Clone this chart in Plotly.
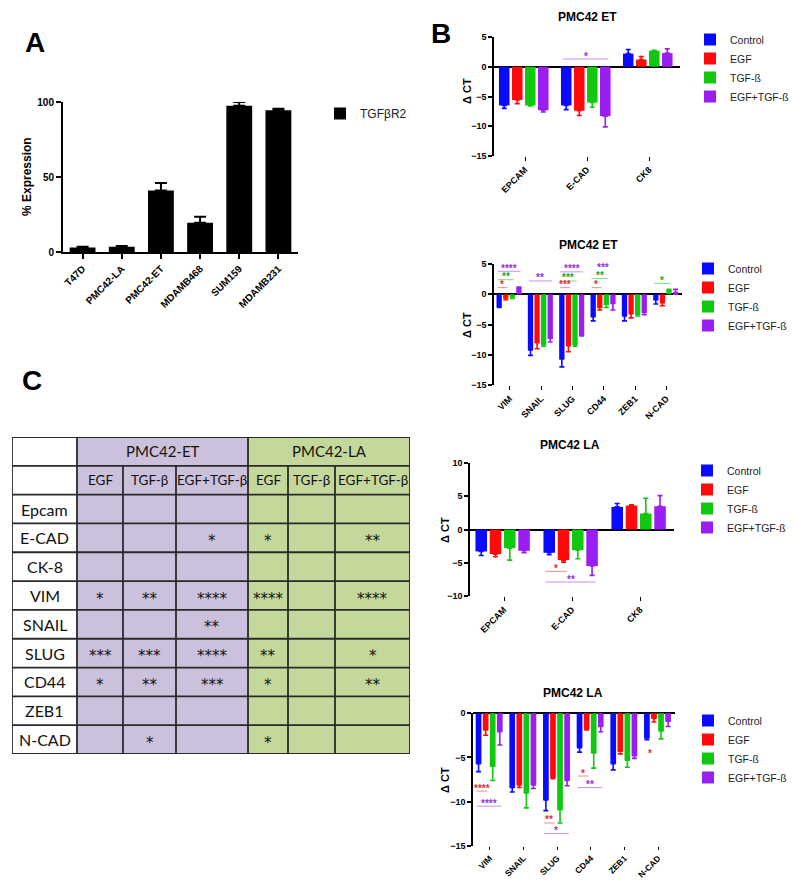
import plotly.graph_objects as go

# The page body has an 8px default margin, so the figure is drawn at (8, 8).
PAGE_OFF = 8
W, H = 797 - 2 * PAGE_OFF, 888 - 2 * PAGE_OFF
ARIAL = "Liberation Sans, Arial, sans-serif"
TABLE_FONT = "Lato, Carlito, sans-serif"

# ---------------- DATA ----------------
# Panel A
a_cells = ["T47D", "PMC42-LA", "PMC42-ET", "MDAMB468", "SUM159", "MDAMB231"]
a_values = [3.0, 3.5, 41.0, 19.5, 97.5, 94.5]
a_errors = [0.5, 0.5, 5.0, 4.0, 2.5, 1.0]

series_names = ["Control", "EGF", "TGF-ß", "EGF+TGF-ß"]

# Panel B1: PMC42 ET epithelial markers
b1_cats = ["EPCAM", "E-CAD", "CK8"]
b1_control = [-6.5, -6.5, 2.2]
b1_egf = [-5.6, -7.4, 1.2]
b1_tgf = [-6.5, -6.0, 2.7]
b1_egftgf = [-7.3, -8.3, 2.3]
b1_control_err = [0.5, 0.7, 0.7]
b1_egf_err = [0.6, 0.8, 0.5]
b1_tgf_err = [0.1, 0.8, 0.05]
b1_egftgf_err = [0.3, 1.8, 0.7]
b1_sig = [("E-CAD", 3, 1.3, "*")]

# Panel B2: PMC42 ET mesenchymal markers
b2_cats = ["VIM", "SNAIL", "SLUG", "CD44", "ZEB1", "N-CAD"]
b2_control = [-2.0, -9.2, -10.7, -3.7, -3.6, -0.9]
b2_egf = [-0.6, -8.0, -8.5, -2.2, -3.2, -1.4]
b2_tgf = [-0.4, -8.3, -8.3, -1.7, -3.3, 0.7]
b2_egftgf = [1.1, -7.3, -6.8, -1.5, -3.0, 0.3]
b2_control_err = [0.2, 0.9, 1.3, 0.7, 0.8, 0.7]
b2_egf_err = [0.3, 1.0, 1.0, 0.4, 0.7, 0.5]
b2_tgf_err = [0.3, 0.3, 0.3, 0.5, 0.3, 0.1]
b2_egftgf_err = [0.1, 0.6, 0.1, 1.1, 0.4, 0.5]
b2_sig = [("VIM", 1, 1.1, "*"), ("VIM", 2, 2.4, "**"), ("VIM", 3, 3.8, "****"),
          ("SNAIL", 3, 2.2, "**"),
          ("SLUG", 1, 1.1, "***"), ("SLUG", 2, 2.2, "***"), ("SLUG", 3, 3.7, "****"),
          ("CD44", 1, 1.1, "*"), ("CD44", 2, 2.6, "**"), ("CD44", 3, 3.9, "***"),
          ("N-CAD", 2, 1.8, "*")]

# Panel B3: PMC42 LA epithelial markers
b3_cats = ["EPCAM", "E-CAD", "CK8"]
b3_control = [-3.3, -3.5, 3.4]
b3_egf = [-3.7, -4.6, 3.6]
b3_tgf = [-2.8, -3.1, 2.4]
b3_egftgf = [-3.2, -5.5, 3.5]
b3_control_err = [0.6, 0.3, 0.5]
b3_egf_err = [0.4, 0.3, 0.1]
b3_tgf_err = [1.8, 1.3, 2.3]
b3_egftgf_err = [0.3, 1.4, 1.6]
b3_sig = [("E-CAD", 1, -6.3, "*"), ("E-CAD", 3, -7.9, "**")]

# Panel B4: PMC42 LA mesenchymal markers
b4_cats = ["VIM", "SNAIL", "SLUG", "CD44", "ZEB1", "N-CAD"]
b4_control = [-5.7, -8.4, -9.8, -3.9, -5.7, -2.8]
b4_egf = [-1.9, -8.1, -7.3, -1.8, -4.3, -0.6]
b4_tgf = [-6.0, -9.0, -10.9, -4.5, -5.3, -2.0]
b4_egftgf = [-2.1, -8.1, -7.6, -1.5, -4.8, -0.9]
b4_control_err = [0.9, 0.5, 1.2, 0.5, 0.7, 0.2]
b4_egf_err = [0.6, 0.3, 0.1, 0.1, 0.3, 0.4]
b4_tgf_err = [1.6, 1.7, 1.5, 1.7, 0.8, 0.9]
b4_egftgf_err = [1.5, 0.4, 0.6, 0.6, 0.3, 0.6]
b4_sig = [("VIM", 1, -8.8, "****"), ("VIM", 3, -10.5, "****"),
          ("SLUG", 1, -12.4, "**"), ("SLUG", 3, -13.6, "*"),
          ("CD44", 1, -7.1, "*"), ("CD44", 3, -8.4, "**"),
          ("N-CAD", 1, -4.9, "*")]

# Panel C: significance table
c_groups = ["PMC42-ET", "PMC42-LA"]
c_treatments = ["EGF", "TGF-β", "EGF+TGF-β", "EGF", "TGF-β", "EGF+TGF-β"]
c_markers = ["Epcam", "E-CAD", "CK-8", "VIM", "SNAIL", "SLUG", "CD44", "ZEB1", "N-CAD"]
c_stars = [
    ["", "", "", "", "", ""],
    ["", "", "*", "*", "", "**"],
    ["", "", "", "", "", ""],
    ["*", "**", "****", "****", "", "****"],
    ["", "", "**", "", "", ""],
    ["***", "***", "****", "**", "", "*"],
    ["*", "**", "***", "*", "", "**"],
    ["", "", "", "", "", ""],
    ["", "*", "", "*", "", ""],
]

# ---------------- STYLE ----------------
COLORS = ["#0a0aff", "#ff0a0a", "#0fc80f", "#9a1ef0"]
SIG_TEXT = {1: "#e0302f", 2: "#1aa81a", 3: "#9a2ee0"}
SIG_LINE = {1: "#f09090", 2: "#80d880", 3: "#c890f0"}
OFFS = [-0.42, -0.21, 0.0, 0.21]
BW = 0.17


def fx(px):
    return (px - PAGE_OFF) / W


def fy(py):
    return 1 - (py - PAGE_OFF) / H


fig = go.Figure()

# ---------------- Panel A ----------------
fig.add_trace(go.Bar(
    x=a_cells, y=a_values, name="TGFβR2", marker=dict(color="black", line=dict(width=0)),
    width=0.66, offset=-0.33, showlegend=True,
    error_y=dict(type="data", array=a_errors, arrayminus=[0] * len(a_errors), symmetric=False,
                 color="black", thickness=2, width=6),
    xaxis="x", yaxis="y", legend="legend", cliponaxis=False,
))

# ---------------- Panels B ----------------
panels = [
    (b1_cats, [b1_control, b1_egf, b1_tgf, b1_egftgf],
     [b1_control_err, b1_egf_err, b1_tgf_err, b1_egftgf_err], b1_sig, "2", "legend2"),
    (b2_cats, [b2_control, b2_egf, b2_tgf, b2_egftgf],
     [b2_control_err, b2_egf_err, b2_tgf_err, b2_egftgf_err], b2_sig, "3", "legend3"),
    (b3_cats, [b3_control, b3_egf, b3_tgf, b3_egftgf],
     [b3_control_err, b3_egf_err, b3_tgf_err, b3_egftgf_err], b3_sig, "4", "legend4"),
    (b4_cats, [b4_control, b4_egf, b4_tgf, b4_egftgf],
     [b4_control_err, b4_egf_err, b4_tgf_err, b4_egftgf_err], b4_sig, "5", "legend5"),
]

shapes = []
annotations = []

for cats, vals, errs, sigs, ax, leg in panels:
    for i, (name, v, e) in enumerate(zip(series_names, vals, errs)):
        plus = [ee if vv >= 0 else 0 for vv, ee in zip(v, e)]
        minus = [ee if vv < 0 else 0 for vv, ee in zip(v, e)]
        fig.add_trace(go.Bar(
            x=cats, y=v, name=name, legend=leg, showlegend=True,
            marker=dict(color=COLORS[i], line=dict(width=0)),
            width=BW, offset=OFFS[i],
            error_y=dict(type="data", array=plus, arrayminus=minus, symmetric=False,
                         color=COLORS[i], thickness=1.6, width=2.5),
            xaxis="x" + ax, yaxis="y" + ax, cliponaxis=False,
        ))
    for cat, si, ylev, stars in sigs:
        c = cats.index(cat)
        x0 = c + OFFS[0] + BW * 0.2
        x1 = c + OFFS[si] + BW * 0.8
        if not (ax == "5" and cat == "N-CAD") and not (ax == "3" and cat == "CD44" and si == 3):
            shapes.append(dict(type="line", xref="x" + ax, yref="y" + ax, x0=x0, x1=x1,
                               y0=ylev, y1=ylev, line=dict(color=SIG_LINE[si], width=1)))
        annotations.append(dict(x=(x0 + x1) / 2, y=ylev, xref="x" + ax, yref="y" + ax,
                                text=stars, showarrow=False, yanchor="middle", yshift=3,
                                font=dict(family=ARIAL, size=10, color=SIG_TEXT[si], weight="bold")))

# ---------------- Axes ----------------
def yaxis_common(rng, tickvals, dom):
    return dict(domain=dom, range=rng, tickvals=tickvals, showline=True, linecolor="black",
                linewidth=1.5, ticks="outside", ticklen=4, tickwidth=1.5, tickcolor="black",
                showgrid=False, zeroline=True, zerolinecolor="black", zerolinewidth=1.5,
                automargin=False,
                tickfont=dict(family=ARIAL, size=9, color="black", weight="bold"))


def xaxis_common(dom, anchor, cats, fs=9):
    return dict(domain=dom, anchor=anchor, range=[-0.5, len(cats) - 0.5], showline=False,
                ticks="outside", ticklen=4, tickwidth=1.2, tickcolor="black", showgrid=False,
                zeroline=False, tickangle=-45, automargin=False,
                tickfont=dict(family=ARIAL, size=fs, color="black", weight="bold"))


layout = dict(
    width=W, height=H, autosize=False, showlegend=True,
    margin=dict(l=0, r=0, t=0, b=0, autoexpand=False),
    paper_bgcolor="white", plot_bgcolor="rgba(0,0,0,0)", barmode="overlay",
    xaxis=dict(domain=[fx(63), fx(298)], anchor="y", range=[-0.5, 5.5], showline=True,
               linecolor="black", linewidth=2, ticks="outside", ticklen=5, tickwidth=2,
               tickcolor="black", showgrid=False, zeroline=False, tickangle=-45, automargin=False,
               tickfont=dict(family=ARIAL, size=10, color="black", weight="bold")),
    yaxis=dict(domain=[fy(252), fy(102)], anchor="x", range=[0, 100], tickvals=[0, 50, 100],
               showline=True, linecolor="black", linewidth=2, ticks="outside", ticklen=5,
               tickwidth=2, tickcolor="black", showgrid=False, zeroline=False, automargin=False,
               tickfont=dict(family=ARIAL, size=10, color="black", weight="bold")),
    xaxis2=xaxis_common([fx(494), fx(680)], "y2", b1_cats),
    yaxis2=dict(yaxis_common([-15, 5], [5, 0, -5, -10, -15], [fy(156), fy(37)]), anchor="x2"),
    xaxis3=xaxis_common([fx(494), fx(682)], "y3", b2_cats),
    yaxis3=dict(yaxis_common([-15, 5], [5, 0, -5, -10, -15], [fy(385), fy(264)]), anchor="x3"),
    xaxis4=xaxis_common([fx(470), fx(674)], "y4", b3_cats),
    yaxis4=dict(yaxis_common([-10, 10], [10, 5, 0, -5, -10], [fy(596), fy(463)]), anchor="x4"),
    xaxis5=xaxis_common([fx(473), fx(675)], "y5", b4_cats, fs=8.5),
    yaxis5=dict(yaxis_common([-15, 0.02], [0, -5, -10, -15], [fy(846), fy(713)]), anchor="x5"),
    xaxis6=dict(domain=[fx(12), fx(410)], anchor="y6", range=[0, 398], visible=False, fixedrange=True),
    yaxis6=dict(domain=[fy(754), fy(437)], anchor="x6", range=[317, 0], visible=False, fixedrange=True),
)
layout["xaxis5"]["ticklen"] = 3

# Legends
leg_font = dict(family=ARIAL, size=10.5, color="#222")
layout["legend"] = dict(x=fx(320), y=fy(99), xanchor="left", yanchor="top",
                        font=dict(family=ARIAL, size=12, color="#222"),
                        bgcolor="rgba(0,0,0,0)", itemwidth=30, tracegroupgap=0)
for key, lx, ly in [("legend2", 690, 25), ("legend3", 688, 254), ("legend4", 687, 456),
                    ("legend5", 688, 706)]:
    layout[key] = dict(x=fx(lx), y=fy(ly), xanchor="left", yanchor="top", font=leg_font,
                       bgcolor="rgba(0,0,0,0)", itemwidth=30, tracegroupgap=0)

# Axis titles (rotated)
for txt, px, py, fs in [("% Expression", 27, 177, 12), ("Δ CT", 467, 91, 11),
                        ("Δ CT", 467, 325, 11), ("Δ CT", 445, 530, 11), ("Δ CT", 445, 780, 11)]:
    annotations.append(dict(x=fx(px), y=fy(py), xref="paper", yref="paper", text=txt,
                            showarrow=False, textangle=-90, xanchor="center", yanchor="middle",
                            font=dict(family=ARIAL, size=fs, color="black", weight="bold")))

# Titles
for txt, px, py in [("PMC42 ET", 587, 17), ("PMC42 ET", 588, 245), ("PMC42 LA", 570, 445),
                    ("PMC42 LA", 573, 693)]:
    annotations.append(dict(x=fx(px), y=fy(py), xref="paper", yref="paper", text=txt,
                            showarrow=False, xanchor="center", yanchor="middle",
                            font=dict(family=ARIAL, size=12, color="black", weight="bold")))

# Panel letters
for txt, px, py in [("A", 35, 42), ("B", 441, 33), ("C", 32, 380)]:
    annotations.append(dict(x=fx(px), y=fy(py), xref="paper", yref="paper", text=txt,
                            showarrow=False, xanchor="center", yanchor="middle",
                            font=dict(family=ARIAL, size=28, color="black", weight="bold")))

# ---------------- Table C ----------------
COL_W = [65, 46, 53, 72, 40, 47, 75]
ROW_H = 317 / 11
PURPLE = "#ccc1dc"
GREEN = "#c4d89c"
LINE = "#2a2a2a"
col_x = [0]
for w_ in COL_W:
    col_x.append(col_x[-1] + w_)
n_rows = 2 + len(c_markers)

def cell_fill(col):
    if col == 0:
        return "white"
    return PURPLE if col <= 3 else GREEN

# backgrounds
for col in range(len(COL_W)):
    shapes.append(dict(type="rect", xref="x6", yref="y6", x0=col_x[col], x1=col_x[col + 1],
                       y0=0, y1=n_rows * ROW_H, fillcolor=cell_fill(col), line=dict(width=0),
                       layer="below"))
# horizontal lines
for r in range(n_rows + 1):
    shapes.append(dict(type="line", xref="x6", yref="y6", x0=0, x1=col_x[-1], y0=r * ROW_H,
                       y1=r * ROW_H, line=dict(color=LINE, width=1.8)))
# vertical lines
for ci, xv in enumerate(col_x):
    y_start = 0 if ci in (0, 1, 4, len(col_x) - 1) else ROW_H
    shapes.append(dict(type="line", xref="x6", yref="y6", x0=xv, x1=xv, y0=y_start,
                       y1=n_rows * ROW_H, line=dict(color=LINE, width=1.8)))

# group headers
for gi, g in enumerate(c_groups):
    x0 = col_x[1 + 3 * gi]
    x1 = col_x[4 + 3 * gi]
    annotations.append(dict(x=(x0 + x1) / 2, y=ROW_H / 2, xref="x6", yref="y6", text=g,
                            showarrow=False, font=dict(family=TABLE_FONT, size=15, color="#111")))
for ti, t in enumerate(c_treatments):
    annotations.append(dict(x=(col_x[ti + 1] + col_x[ti + 2]) / 2, y=1.5 * ROW_H, xref="x6",
                            yref="y6", text=t, showarrow=False,
                            font=dict(family=TABLE_FONT, size=13.5, color="#111")))
for ri, m in enumerate(c_markers):
    yc = (ri + 2.5) * ROW_H
    annotations.append(dict(x=col_x[0] + COL_W[0] / 2, y=yc, xref="x6", yref="y6", text=m,
                            showarrow=False, font=dict(family=TABLE_FONT, size=16, color="#111")))
    for ci, s in enumerate(c_stars[ri]):
        if s:
            annotations.append(dict(x=(col_x[ci + 1] + col_x[ci + 2]) / 2, y=yc, xref="x6",
                                    yref="y6", text=s, showarrow=False, yshift=-3,
                                    font=dict(family="DejaVu Sans", size=15, color="#111")))

layout["shapes"] = shapes
layout["annotations"] = annotations
fig.update_layout(**layout)

fig.write_html("out.html")
